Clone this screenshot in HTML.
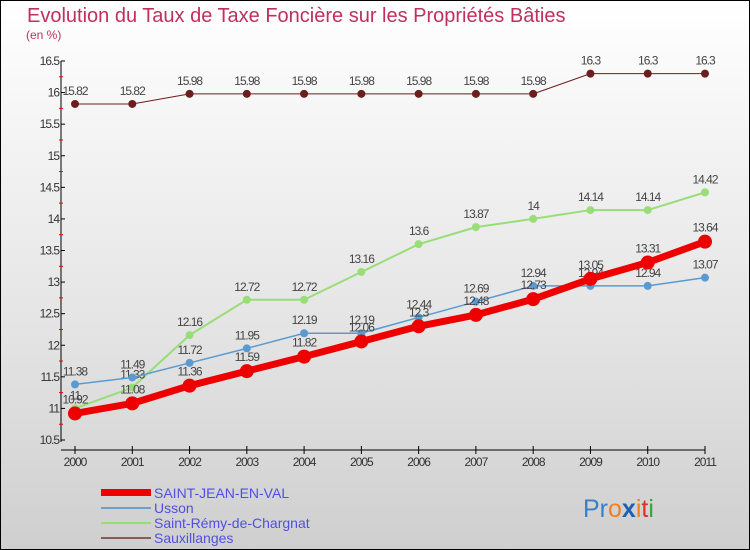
<!DOCTYPE html>
<html><head><meta charset="utf-8"><style>
body{margin:0;width:750px;height:550px;overflow:hidden;font-family:"Liberation Sans",sans-serif;}
#wrap{position:absolute;left:0;top:0;width:748px;height:548px;border:1px solid #000;background:linear-gradient(#fff 0%,#e4e4e4 60%,#cfcfcf 100%);}
</style></head><body>
<div id="wrap">
<svg id="chart" width="750" height="550" style="position:absolute;left:-1px;top:-1px">
<text x="27" y="22" font-size="20" fill="#c0305a">Evolution du Taux de Taxe Foncière sur les Propriétés Bâties</text>
<text x="26" y="39" font-size="12" fill="#c0305a">(en %)</text>
<g id="axes"></g><g id="series"></g>
<g>
<rect x="101" y="489" width="50" height="7" fill="#e00"/>
<text x="154" y="498" font-size="14" fill="#5050e0">SAINT-JEAN-EN-VAL</text>
<rect x="101" y="507" width="50" height="2" fill="#6fa0c8"/>
<text x="154" y="513" font-size="14" fill="#5050e0">Usson</text>
<rect x="101" y="522" width="50" height="2" fill="#99dd77"/>
<text x="154" y="528" font-size="14" fill="#5050e0">Saint-Rémy-de-Chargnat</text>
<rect x="101" y="537" width="50" height="2" fill="#8a5a5a"/>
<text x="154" y="543" font-size="14" fill="#5050e0">Sauxillanges</text>
</g>
<text x="583" y="517" font-size="25"><tspan fill="#3a7fc8">Pr</tspan><tspan fill="#f08020">o</tspan><tspan fill="#2060b0" font-weight="bold">x</tspan><tspan fill="#f08020">i</tspan><tspan fill="#e03020">t</tspan><tspan fill="#40a040">i</tspan></text>
</svg></div>
<script>
const years=[2000,2001,2002,2003,2004,2005,2006,2007,2008,2009,2010,2011];
const yTicks=[10.5,11,11.5,12,12.5,13,13.5,14,14.5,15,15.5,16,16.5];
const yTickLabels=["10.5","11","11.5","12","12.5","13","13.5","14","14.5","15","15.5","16","16.5"];
const sjev=[10.92,11.08,11.36,11.59,11.82,12.06,12.3,12.48,12.73,13.05,13.31,13.64];
const usson=[11.38,11.49,11.72,11.95,12.19,12.19,12.44,12.69,12.94,12.94,12.94,13.07];
const remy=[11,11.33,12.16,12.72,12.72,13.16,13.6,13.87,14,14.14,14.14,14.42];
const saux=[15.82,15.82,15.98,15.98,15.98,15.98,15.98,15.98,15.98,16.3,16.3,16.3];
const NS="http://www.w3.org/2000/svg";
const xS=i=>75+i*(630/(years.length-1));
const yS=v=>440-(v-10.5)*(379/6);
function mk(t,a,p){const e=document.createElementNS(NS,t);for(const k in a)e.setAttribute(k,a[k]);p.appendChild(e);return e;}
const ax=document.getElementById('axes');
let yl=mk('line',{x1:61,y1:yS(16.5),x2:61,y2:yS(10.5)+2,stroke:'#000','stroke-width':1},ax);


let xl=mk('line',{x1:61,y1:450,x2:705,y2:450,stroke:'#000','stroke-width':1},ax);


yTicks.forEach((v,i)=>{
 mk('line',{x1:61,y1:yS(v),x2:65,y2:yS(v),stroke:'#000'},ax);
 if(i<yTicks.length-1) mk('line',{x1:59,y1:yS(v+0.25),x2:63,y2:yS(v+0.25),stroke:'#e00'},ax);
 const t=mk('text',{x:59,y:yS(v)+4,'font-size':12,'text-anchor':'end',fill:'#333','letter-spacing':'-1'},ax);
 t.textContent=yTickLabels[i];
 
 
});
years.forEach((y,i)=>{
 mk('line',{x1:xS(i),y1:446,x2:xS(i),y2:454,stroke:'#000'},ax);
 const t=mk('text',{x:xS(i),y:466,'font-size':12,'text-anchor':'middle',fill:'#333','letter-spacing':'-1'},ax);
 t.textContent=y;
 
 
});
const sg=document.getElementById('series');
function series(vals,color,w,r,name,labelDy){
 const g=mk('g',{},sg);
 
 
 mk('polyline',{points:vals.map((v,i)=>xS(i)+','+yS(v)).join(' '),fill:'none',stroke:color,'stroke-width':w,'stroke-linejoin':'round'},g);
 vals.forEach((v,i)=>{
  const c=mk('circle',{cx:xS(i),cy:yS(v),r:r,fill:color},g);
  
  
  const t=mk('text',{x:xS(i),y:yS(v)+labelDy,'font-size':12,'text-anchor':'middle',fill:'#444','letter-spacing':'-1'},g);
  t.textContent=String(v);
 });
}
series(saux,'#6b1e1e',1,4,'series-sauxillanges',-9);
series(remy,'#99dd77',2,4,'series-saint-remy',-9);
series(usson,'#5a9ad0',1.5,4,'series-usson',-9);
series(sjev,'#ee0000',7,7,'series-saint-jean',-10);
</script>
</body></html>
